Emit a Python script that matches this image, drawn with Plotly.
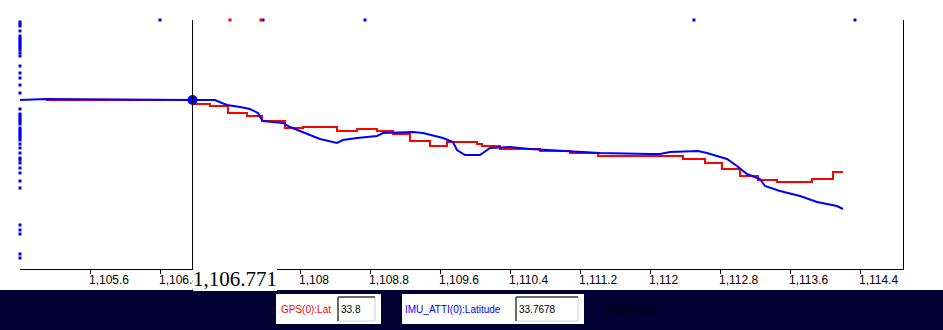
import plotly.graph_objects as go

# ---------------- data ----------------
imu_x = [1104.800, 1105.097, 1106.765, 1107.028, 1107.107, 1107.165, 1107.313, 1107.427, 1107.519, 1107.542,
         1107.576, 1107.804, 1107.884, 1108.033, 1108.227, 1108.421, 1108.490, 1108.650, 1108.878, 1108.947,
         1109.289, 1109.404, 1109.632, 1109.746, 1109.792, 1109.883, 1110.055, 1110.169, 1110.397, 1110.626,
         1110.969, 1111.140, 1111.426, 1111.997, 1112.111, 1112.225, 1112.419, 1112.545, 1112.648, 1112.762,
         1112.876, 1112.991, 1113.105, 1113.253, 1113.310, 1113.482, 1113.710, 1113.905, 1114.133, 1114.201]
imu_lat = [33.77000, 33.77001, 33.77000, 33.77000, 33.76997, 33.76995, 33.76993, 33.76991, 33.76987, 33.76983,
           33.76979, 33.76977, 33.76973, 33.76968, 33.76961, 33.76957, 33.76960, 33.76962, 33.76964, 33.76967,
           33.76968, 33.76967, 33.76962, 33.76958, 33.76950, 33.76945, 33.76945, 33.76952, 33.76953, 33.76951,
           33.76949, 33.76948, 33.76947, 33.76946, 33.76946, 33.76948, 33.76949, 33.76949, 33.76947, 33.76944,
           33.76941, 33.76934, 33.76926, 33.76921, 33.76914, 33.76909, 33.76904, 33.76898, 33.76894, 33.76891]

gps_x = [1105.097, 1106.780, 1106.970, 1107.176, 1107.393, 1107.564, 1107.827, 1108.033, 1108.421, 1108.650,
         1108.878, 1109.061, 1109.255, 1109.484, 1109.678, 1110.021, 1110.078, 1110.283, 1110.740, 1111.083,
         1111.403, 1112.374, 1112.625, 1112.819, 1113.025, 1113.230, 1113.448, 1113.847, 1114.087, 1114.201]
gps_lat = [33.77000, 33.76996, 33.76994, 33.76987, 33.76984, 33.76979, 33.76972, 33.76973, 33.76969, 33.76971,
           33.76969, 33.76966, 33.76959, 33.76954, 33.76958, 33.76956, 33.76954, 33.76951, 33.76949, 33.76947,
           33.76944, 33.76941, 33.76937, 33.76931, 33.76924, 33.76920, 33.76918, 33.76921, 33.76928, 33.76928]

# out-of-view samples pinned to the plot edges
top_blue_x = [1106.399, 1107.576, 1108.741, 1112.499, 1114.338]
top_red_x = [1107.199, 1107.553]
left_blue_lat = [33.77078, 33.77076, 33.77074, 33.77069, 33.77064, 33.77062, 33.77060, 33.77058, 33.77056,
                 33.77054, 33.77052, 33.77050, 33.77047, 33.77044, 33.77034, 33.77027, 33.77022, 33.77015,
                 33.77007, 33.76991, 33.76986, 33.76984, 33.76982, 33.76980, 33.76978, 33.76976, 33.76972,
                 33.76970, 33.76968, 33.76966, 33.76964, 33.76962, 33.76960, 33.76956, 33.76952, 33.76947,
                 33.76942, 33.76940, 33.76937, 33.76932, 33.76927, 33.76919, 33.76912, 33.76875, 33.76870,
                 33.76866, 33.76846, 33.76842]

x_range = [1104.800, 1114.887]
y_range = [33.76831, 33.77080]
tick_vals = [1105.6, 1106.4, 1107.2, 1108.0, 1108.8, 1109.6, 1110.4, 1111.2, 1112.0, 1112.8, 1113.6, 1114.4]
tick_text = ["1,105.6", "1,106.4", "1,107.2", "1,108", "1,108.8", "1,109.6", "1,110.4", "1,111.2",
             "1,112", "1,112.8", "1,113.6", "1,114.4"]

cursor_x = 1106.771
cursor_text = "1,106.771"
cursor_lat = 33.77000
gps_label, gps_value = "GPS(0):Lat", "33.8"
imu_label, imu_value = "IMU_ATTI(0):Latitude", "33.7678"
version_text = "Version 3.6.7"

# ---------------- layout helpers ----------------
W, H = 943, 330
ML, MR, MT, MB = 20, 40, 20, 61
PW, PH = W - ML - MR, H - MT - MB


def pxx(x):
    return (x - ML) / PW


def pxy(y):
    return (H - MB - y) / PH


BLUE = "#0000ff"
RED = "#ff0000"
NAVY = "#000033"

fig = go.Figure()
fig.add_trace(go.Scatter(x=gps_x, y=gps_lat, mode="lines", line=dict(color=RED, width=2, shape="hv"),
                         hoverinfo="skip"))
fig.add_trace(go.Scatter(x=imu_x, y=imu_lat, mode="lines", line=dict(color=BLUE, width=2),
                         hoverinfo="skip"))
fig.add_trace(go.Scatter(x=top_blue_x, y=[y_range[1]] * len(top_blue_x), mode="markers",
                         marker=dict(color=BLUE, size=3, symbol="square"), cliponaxis=False))
fig.add_trace(go.Scatter(x=top_red_x, y=[y_range[1]] * len(top_red_x), mode="markers",
                         marker=dict(color=RED, size=3, symbol="square"), cliponaxis=False))
fig.add_trace(go.Scatter(x=[x_range[0]] * len(left_blue_lat), y=left_blue_lat, mode="markers",
                         marker=dict(color=BLUE, size=3, symbol="square"), cliponaxis=False))
fig.add_trace(go.Scatter(x=[cursor_x], y=[cursor_lat], mode="markers",
                         marker=dict(color=BLUE, size=10), cliponaxis=False))

shapes = [
    dict(type="line", xref="x", yref="paper", x0=cursor_x, x1=cursor_x, y0=0, y1=1,
         line=dict(color="black", width=1)),
    # bottom navy bar
    dict(type="rect", xref="paper", yref="paper", x0=pxx(0), x1=pxx(W), y0=pxy(290), y1=pxy(H),
         fillcolor=NAVY, line=dict(width=0), layer="above"),
    # cursor underline
    dict(type="line", xref="paper", yref="paper", x0=pxx(192), x1=pxx(262), y0=pxy(289), y1=pxy(289),
         line=dict(color="#c0c0f0", width=2)),
]
annotations = []


def panel(x0, x1, in0, in1):
    shapes.append(dict(type="rect", xref="paper", yref="paper", x0=pxx(x0), x1=pxx(x1), y0=pxy(294),
                       y1=pxy(324), fillcolor="white", line=dict(width=0)))
    shapes.append(dict(type="rect", xref="paper", yref="paper", x0=pxx(in0), x1=pxx(in1), y0=pxy(297),
                       y1=pxy(321), fillcolor="white", line=dict(color="#d4d0c8", width=1)))
    shapes.append(dict(type="line", xref="paper", yref="paper", x0=pxx(in0), x1=pxx(in1), y0=pxy(297),
                       y1=pxy(297), line=dict(color="#404040", width=1.5)))
    shapes.append(dict(type="line", xref="paper", yref="paper", x0=pxx(in0), x1=pxx(in0), y0=pxy(297),
                       y1=pxy(321), line=dict(color="#404040", width=1.5)))


panel(276, 381, 338, 375)
panel(402, 584, 516, 578)

for v, t in zip(tick_vals, tick_text):
    annotations.append(dict(x=v, y=0, xref="x", yref="paper", text=t, showarrow=False, xanchor="left",
                            yanchor="middle", yshift=-11, xshift=-3,
                            font=dict(family="Liberation Sans", size=12, color="black")))

annotations.append(dict(x=cursor_x, y=pxy(279), xref="x", yref="paper", text=cursor_text, showarrow=False,
                        xanchor="left", yanchor="middle", bgcolor="white", borderpad=0, borderwidth=0,
                        font=dict(family="Liberation Serif", size=21, color="black")))

small = dict(family="Liberation Sans", size=10)
for xpos, txt, col in [(279, gps_label, RED), (339, gps_value, "black"), (403, imu_label, BLUE),
                       (517, imu_value, "black"), (602, version_text, "black")]:
    annotations.append(dict(x=pxx(xpos), y=pxy(309), xref="paper", yref="paper", text=txt, showarrow=False,
                            xanchor="left", yanchor="middle", font=dict(small, color=col)))

fig.update_layout(
    width=W, height=H, margin=dict(l=ML, r=MR, t=MT, b=MB),
    paper_bgcolor="white", plot_bgcolor="white", showlegend=False,
    shapes=shapes, annotations=annotations,
    xaxis=dict(range=x_range, showgrid=False, zeroline=False, showline=True, linecolor="black", linewidth=1,
               ticks="outside", ticklen=4, tickcolor="black", tickvals=tick_vals, showticklabels=False),
    yaxis=dict(range=y_range, side="right", showgrid=False, zeroline=False, showline=True,
               linecolor="black", linewidth=1, ticks="", showticklabels=False),
)

fig.write_html("out.html", config={"displayModeBar": False},
               post_script="document.body.style.margin='0';document.body.style.overflow='hidden';")
